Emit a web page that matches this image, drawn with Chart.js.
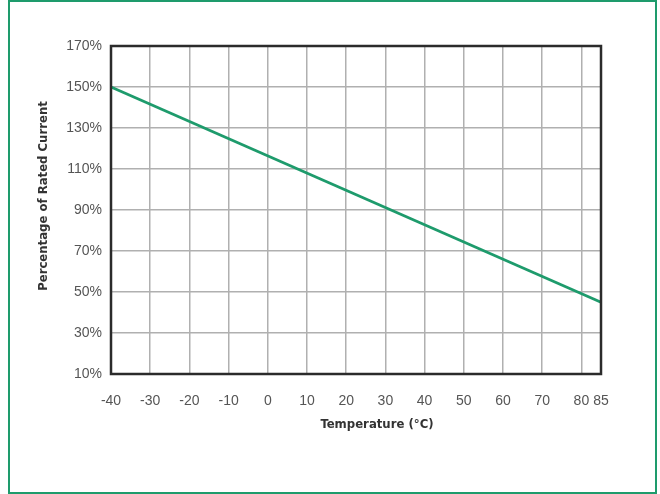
<!DOCTYPE html>
<html>
<head>
<meta charset="utf-8">
<script src="https://cdn.jsdelivr.net/npm/chart.js@4.4.1/dist/chart.umd.min.js"></script>
<style>
  html, body { margin: 0; padding: 0; background: #fff; }
  .wrap { position: relative; width: 660px; height: 494px; }
  .frame { position: absolute; left: 8px; top: 0px; width: 645px; height: 490px; border: 2px solid #1e9b6c; }
  canvas { position: absolute; left: 0; top: 0; }
</style>
</head>
<body>
<div class="wrap">
  <canvas id="deratingChart" width="660" height="494"></canvas>
  <div class="frame"></div>
</div>
<script>
// temperature (°C) vs percentage of rated current
const temps = [-40, 85];
const ratedPct = [150, 45];
const xTicks = [-40, -30, -20, -10, 0, 10, 20, 30, 40, 50, 60, 70, 80, 85];
const yTicks = [10, 30, 50, 70, 90, 110, 130, 150, 170];
const xTitle = 'Temperature (°C)';
const yTitle = 'Percentage of Rated Current';

const tickFont = { family: 'Liberation Sans, Arial, sans-serif', size: 14 };
const titleFont = 'bold 13px "DejaVu Sans Condensed", "Liberation Sans", sans-serif';

// dark frame round the plot area, plus the axis titles (placed like the original, a bit off-centre)
const plotFrame = {
    id: 'plotFrame',
    afterDraw(chart) {
        const { ctx, chartArea: a } = chart;
        ctx.save();
        ctx.strokeStyle = '#2b2b2b';
        ctx.lineWidth = 2.5;
        ctx.strokeRect(a.left, a.top, a.right - a.left, a.bottom - a.top);

        ctx.fillStyle = '#333';
        ctx.font = titleFont;
        ctx.textAlign = 'center';
        ctx.textBaseline = 'middle';
        ctx.fillText(xTitle, 377, 425);
        ctx.translate(44, 196);
        ctx.rotate(-Math.PI / 2);
        ctx.fillText(yTitle, 0, 0);
        ctx.restore();
    }
};

const ctx = document.getElementById('deratingChart').getContext('2d');
new Chart(ctx, {
    type: 'line',
    data: {
        datasets: [{
            data: temps.map((t, i) => ({ x: t, y: ratedPct[i] })),
            borderColor: '#1e9b6c',
            borderWidth: 2.8,
            pointRadius: 0,
            fill: false,
            tension: 0
        }]
    },
    options: {
        responsive: false,
        animation: false,
        layout: { padding: { left: 0, top: 46, right: 59, bottom: 0 } },
        plugins: { legend: { display: false }, tooltip: { enabled: false } },
        scales: {
            x: {
                type: 'linear',
                min: -40,
                max: 85,
                afterBuildTicks: (scale) => { scale.ticks = xTicks.map(v => ({ value: v })); },
                afterFit: (scale) => { scale.height = 120; },
                grid: { color: '#b0b0b0', lineWidth: 1.5, drawTicks: false },
                border: { display: false },
                ticks: { font: tickFont, color: '#555', padding: 19, maxRotation: 0, autoSkip: false }
            },
            y: {
                type: 'linear',
                min: 10,
                max: 170,
                afterBuildTicks: (scale) => { scale.ticks = yTicks.map(v => ({ value: v })); },
                afterFit: (scale) => { scale.width = 111; },
                grid: { color: '#b0b0b0', lineWidth: 1.5, drawTicks: false },
                border: { display: false },
                ticks: { font: tickFont, color: '#555', padding: 9, callback: v => v + '%' }
            }
        }
    },
    plugins: [plotFrame]
});
</script>
</body>
</html>
